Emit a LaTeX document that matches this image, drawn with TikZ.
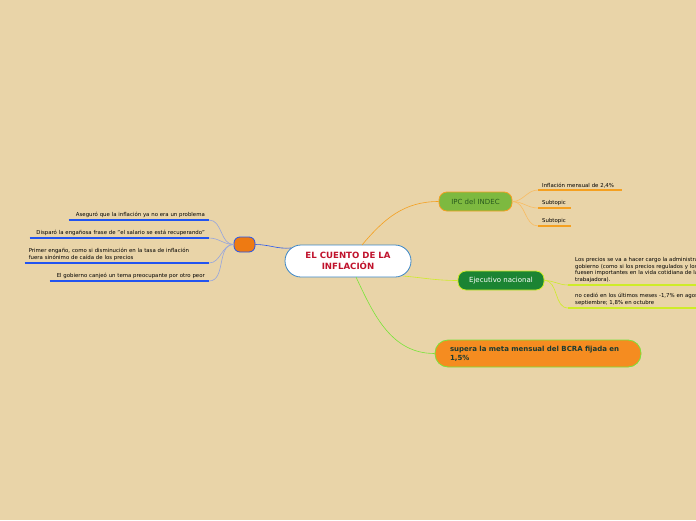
\documentclass[tikz,border=0pt]{standalone}
\usepackage{fontspec}
\setmainfont{DejaVu Sans}
\usetikzlibrary{positioning}
\definecolor{bgtan}{RGB}{233,212,168}
\definecolor{rootblue}{RGB}{60,135,198}
\definecolor{rootred}{RGB}{192,18,44}
\definecolor{huborange}{RGB}{238,122,18}
\definecolor{leftblue}{RGB}{34,84,240}
\definecolor{leftconn}{RGB}{150,165,222}
\definecolor{ipcgreen}{RGB}{125,185,64}
\definecolor{ipcorange}{RGB}{245,160,32}
\definecolor{ipctext}{RGB}{42,90,30}
\definecolor{ejgreen}{RGB}{27,132,51}
\definecolor{ejyellow}{RGB}{206,236,40}
\definecolor{bcraorange}{RGB}{245,140,32}
\definecolor{bcragreen}{RGB}{122,228,58}
\definecolor{bcratext}{RGB}{26,58,50}

\begin{document}
\begin{tikzpicture}[x=1pt,y=-1pt,
	central/.style={draw=rootblue,fill=white,rounded corners=16pt,line width=0.8pt,minimum width=126pt,minimum height=32pt,inner sep=0pt,align=center,text=rootred,font=\fontsize{8.6}{11}\selectfont\bfseries},
	hubbox/.style={draw=leftblue,fill=huborange,rounded corners=6pt,line width=0.8pt,minimum width=21pt,minimum height=15pt,inner sep=0pt},
	ipcbox/.style={draw=ipcorange,fill=ipcgreen,rounded corners=8pt,line width=0.8pt,minimum width=73pt,minimum height=19pt,inner sep=0pt,text=ipctext,font=\fontsize{7}{8}\selectfont},
	ejbox/.style={draw=ejyellow,fill=ejgreen,rounded corners=8pt,line width=0.8pt,minimum width=86pt,minimum height=19pt,inner sep=0pt,text=white,font=\fontsize{7}{8}\selectfont},
	bcrabox/.style={draw=bcragreen,fill=bcraorange,rounded corners=13pt,line width=0.8pt,minimum height=27pt,inner xsep=15pt,inner ysep=0pt,text width=176pt,align=left,text=bcratext,font=\fontsize{7}{8.7}\selectfont\bfseries},
	lsub/.style={anchor=south east,inner xsep=4pt,inner ysep=2pt,align=right,font=\fontsize{5.4}{7}\selectfont},
	rsub/.style={anchor=south west,inner xsep=4pt,inner ysep=2pt,align=left,font=\fontsize{5.4}{6.7}\selectfont},
	uline/.style={line width=1.2pt},
	conn/.style={line width=0.6pt}]
	\fill[bgtan] (0,0) rectangle (696,520);
	\useasboundingbox (0,0) rectangle (696,520);
	\clip (0,0) rectangle (696,520);

	\node[central] (root) at (348,261) {EL CUENTO DE LA\\INFLACIÓN};
	\node[hubbox] (hub) at (244.5,244.5) {};
	\node[ipcbox] (ipc) at (475.5,201.5) {IPC del INDEC};
	\node[ejbox] (ej) at (501,280.5) {Ejecutivo nacional};
	\node[bcrabox] (bcra) at (538,353.5) {supera la meta mensual del BCRA fijada en\\1,5\%};

	\coordinate (rl) at (291,248);
	\coordinate (rt) at (362,245);
	\coordinate (rr) at (403,276);
	\coordinate (rb) at (356,277);
	\draw[conn,leftblue] (rl) to[out=185,in=0] (hub.east);
	\draw[conn,ipcorange] (rt) to[out=50,in=180] (ipc.west);
	\draw[conn,ejyellow] (rr) to[out=-5,in=180] (ej.west);
	\draw[conn,bcragreen] (rb) to[out=-65,in=180] (bcra.west);

	\node[lsub,text width=132pt] (a1) at (209,220) {Aseguró que la inflación ya no era un problema};
	\node[lsub,text width=171pt] (a2) at (209,238) {Disparó la engañosa frase de "el salario se está recuperando"};
	\node[lsub,text width=176pt,align=left] (a3) at (209,263) {Primer engaño, como si disminución en la tasa de inflación\\fuera sinónimo de caída de los precios};
	\node[lsub,text width=151pt] (a4) at (209,281) {El gobierno canjeó un tema preocupante por otro peor};
	\foreach \n in {a1,a2,a3,a4} {
		\draw[conn,leftconn] (hub.west) to[out=180,in=0] (\n.south east);
		\draw[uline,leftblue] (\n.south west) -- (\n.south east);
	}

	\node[rsub,text width=76pt] (b1) at (538,190) {Inflación mensual de 2,4\%};
	\node[rsub,text width=25pt] (b2) at (538,208) {Subtopic};
	\node[rsub,text width=25pt] (b3) at (538,226) {Subtopic};
	\foreach \n in {b1,b2,b3} {
		\draw[conn,ipcorange!70] (ipc.east) to[out=0,in=180] (\n.south west);
		\draw[uline,ipcorange] (\n.south west) -- (\n.south east);
	}

	\node[rsub,inner xsep=7pt,text width=170pt] (c1) at (568,285) {Los precios se va a hacer cargo la administración\\gobierno (como si los precios regulados y los\\fuesen importantes en la vida cotidiana de la\\trabajadora).};
	\node[rsub,inner xsep=7pt,text width=170pt] (c2) at (568,308) {no cedió en los últimos meses -1,7\% en agosto\\septiembre; 1,8\% en octubre};
	\foreach \n in {c1,c2} {
		\draw[conn,ejyellow] (ej.east) to[out=0,in=180] (\n.south west);
		\draw[uline,ejyellow] (\n.south west) -- (\n.south east);
	}
\end{tikzpicture}
\end{document}
